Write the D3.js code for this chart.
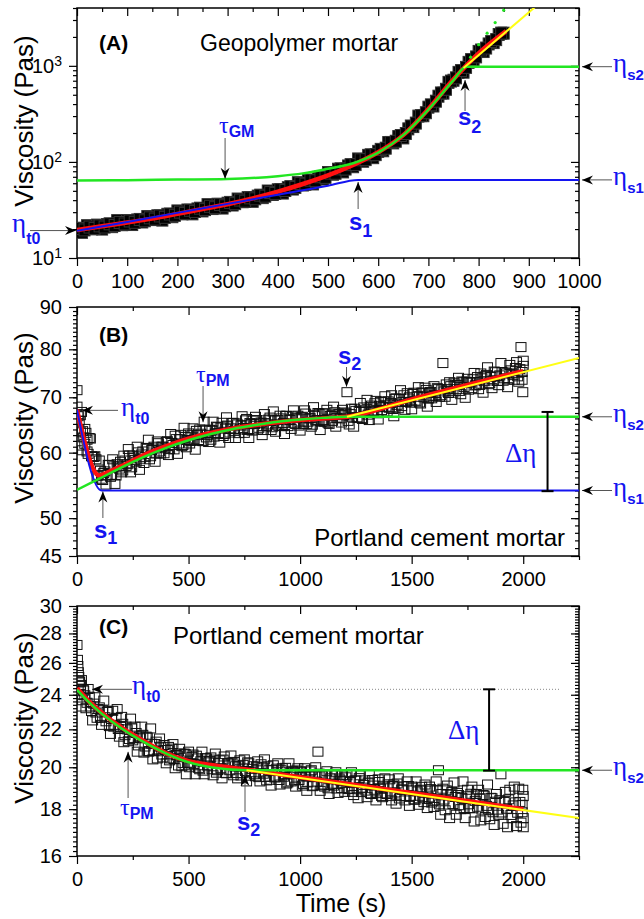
<!DOCTYPE html>
<html>
<head>
<meta charset="utf-8">
<script src="https://cdn.jsdelivr.net/npm/d3@7"></script>
<style>
    body { margin: 0; background: #fff; }
    svg { display: block; font-family: 'Liberation Sans', Arial, sans-serif; }
    .axis path { display: none; }
    .axis line { stroke: #000; stroke-width: 1.2; }
    .axis text { font-size: 20px; fill: #000; font-family: 'Liberation Sans', Arial, sans-serif; }
</style>
</head>
<body>
<svg id="chart"></svg>
<script>
// ---- data ----
// (A) geopolymer mortar, samples every 10 s plus the in-between 5 s samples
let timeA = d3.range(0, 851, 10);
let viscA = [20.4, 18.5, 21.7, 20.1, 22.0, 20.0, 22.3, 21.2, 24.5, 22.2,
    24.5, 22.3, 24.9, 23.7, 27.0, 25.1, 27.5, 24.8, 28.5, 26.9,
    30.9, 28.8, 31.6, 28.8, 32.4, 30.9, 35.9, 32.7, 36.3, 33.1,
    37.2, 35.6, 41.1, 38.5, 42.5, 38.9, 44.1, 42.5, 49.8, 45.8,
    51.3, 47.4, 53.9, 52.2, 60.8, 57.5, 64.3, 59.0, 69.0, 66.4,
    77.6, 74.5, 84.0, 78.7, 90.8, 89.1, 107.4, 101.6, 117, 110.7,
    128.8, 130.6, 159.2, 157.7, 183.7, 177.8, 220.8, 233.3, 299.9, 302.6,
    371.5, 382.0, 483.1, 520.0, 673.0, 707.9, 855.1, 859.0, 1087, 1143,
    1413, 1409, 1690, 1746, 2118, 2188];
let timeA2 = d3.range(5, 846, 10);
let viscA2 = [20.3, 19.6, 21.0, 20.3, 21.6, 21.0, 22.7, 21.8, 23.4, 22.6,
    24.3, 23.5, 25.2, 24.4, 26.2, 25.4, 27.4, 26.5, 28.7, 27.8,
    30.0, 29.1, 31.4, 30.5, 33.0, 31.9, 34.5, 33.4, 36.1, 35.0,
    37.9, 36.8, 40.1, 39.0, 42.3, 41.3, 45.1, 44.0, 48.0, 47.0,
    51.4, 50.4, 55.3, 54.3, 59.5, 58.6, 64.6, 63.7, 70.1, 69.1,
    76.5, 76.2, 84.7, 84.3, 93.7, 93.8, 105.2, 105.7, 118.6, 119.1,
    135.1, 139.0, 159.5, 164.1, 188.3, 197.6, 236.5, 253.5, 303.2, 325.1,
    392.5, 428.6, 522.2, 570.2, 694.7, 749.9, 893.0, 963.9, 1161, 1239,
    1462, 1532, 1790, 1875, 2192];

let redA_t = [0, 50, 100, 150, 200, 250, 300, 350, 400, 450, 500, 550, 600, 650, 700, 750, 800, 855];
let redA_v = [19.5, 21.4, 23.4, 25.7, 28.8, 32.4, 36.3, 41.7, 49, 58.9, 72.4, 93, 126, 190, 355, 724, 1350, 2300];
let blueA_t = [0, 100, 200, 300, 400, 500, 560, 1000];
let blueA_v = [19.2, 23.7, 29.5, 36.6, 45.6, 56.6, 65, 65];
let greenA_t = [0, 100, 200, 300, 400, 450, 500, 550, 600, 650, 700, 750, 775, 1000];
let greenA_v = [64, 64.5, 65.5, 66.5, 71, 76, 85, 97, 125, 190, 350, 710, 980, 980];
let yellowA_t = [770, 930];
let yellowA_v = [950, 4900];
let dotsA_t = [784, 800, 817, 833, 850];
let dotsA_v = [1230, 1660, 2190, 2820, 3800];

// (B) Portland cement mortar, samples every 10 s plus the in-between 5 s samples
let timeB = d3.range(0, 2001, 10);
let viscB = [71.4, 65.6, 67.2, 62.6, 63.4, 59.8, 62.4, 59.3, 59.4, 56.2,
    58.7, 55.8, 56.7, 54.9, 58.0, 56.1, 58.9, 55.0, 58.1, 57.4,
    56.8, 59.5, 57.8, 60.6, 56.8, 59.5, 58.8, 61.0, 57.2, 59.7,
    58.3, 60.8, 62.2, 59.4, 60.7, 58.5, 61.9, 60.2, 61.0, 59.9,
    61.8, 59.6, 63.2, 61.3, 62.9, 59.8, 62.3, 61.1, 64.3, 60.9,
    63.3, 62.0, 64.2, 60.5, 63.0, 64.0, 62.0, 65.4, 62.6, 61.8,
    62.2, 65.4, 63.3, 64.4, 61.7, 65.2, 63.2, 66.2, 62.5, 64.2,
    65.2, 62.5, 64.9, 64.0, 66.4, 63.4, 65.9, 62.5, 65.0, 65.6,
    66.3, 64.0, 65.1, 63.0, 66.8, 64.6, 65.8, 63.9, 67.3, 63.6,
    65.7, 66.5, 64.6, 63.2, 66.5, 65.8, 64.1, 67.5, 65.0, 66.5,
    63.8, 66.3, 67.5, 65.0, 66.0, 64.5, 68.1, 65.6, 67.0, 63.9,
    66.9, 65.4, 67.6, 65.0, 66.5, 68.2, 64.5, 66.9, 66.0, 67.6,
    67.1, 71.0, 64.9, 67.8, 64.5, 67.4, 66.1, 68.9, 65.9, 67.5,
    69.5, 65.7, 68.4, 67.3, 69.3, 65.8, 69.1, 68.1, 70.2, 67.3,
    68.0, 70.4, 66.4, 69.8, 67.9, 71.4, 69.1, 67.6, 70.8, 70.0,
    67.7, 70.9, 69.2, 72.0, 68.8, 70.9, 71.9, 68.2, 70.9, 69.8,
    72.2, 69.1, 71.6, 70.4, 77.0, 70.1, 71.6, 73.0, 69.5, 72.9,
    71.6, 73.9, 70.6, 73.0, 69.9, 73.7, 73.0, 71.8, 74.9, 72.5,
    71.6, 74.8, 70.9, 74.2, 76.1, 72.8, 71.8, 75.2, 74.2, 72.4,
    77.0, 73.3, 75.0, 72.0, 76.6, 74.8, 73.5, 77.2, 73.1, 80.5,
    76.4];
let timeB2 = d3.range(5, 1996, 10);
let viscB2 = [66.4, 66.6, 63.7, 64.1, 62.2, 62.5, 59.4, 59.3, 58.9, 56.4,
    57.05, 55.6, 56.95, 56.4, 57.95, 56.4, 57.75, 56.3, 57.75, 58.5,
    57.1, 58.7, 58.1, 59.55, 57.6, 59.2, 58.5, 60.05, 59.0, 60.2,
    59.3, 60.75, 58.9, 60.45, 61.0, 59.85, 61.6, 59.85, 61.0, 60.75,
    61.95, 60.6, 61.65, 60.55, 62.3, 61.55, 63.05, 61.3, 62.65, 62.15,
    61.55, 63.05, 62.25, 63.75, 62.15, 63.25, 61.95, 63.95, 63.05, 63.95,
    63.85, 62.75, 64.5, 63.35, 64.35, 62.85, 64.15, 64.7, 63.45, 65.15,
    63.75, 65.1, 63.35, 64.7, 64.25, 65.65, 63.9, 65.15, 63.8, 64.95,
    65.7, 64.3, 65.25, 63.9, 65.65, 64.9, 66.15, 64.4, 65.65, 64.9,
    64.65, 66.0, 65.15, 66.45, 64.6, 65.7, 66.35, 65.1, 66.05, 64.7,
    66.2, 64.95, 66.9, 65.4, 66.05, 64.85, 66.6, 65.7, 66.85, 65.4,
    65.7, 66.95, 65.2, 66.5, 65.55, 67.15, 66.1, 66.8, 65.25, 66.6,
    66.95, 65.55, 66.8, 66.2, 67.8, 66.2, 67.45, 66.05, 68.05, 67.2,
    66.7, 68.1, 67.4, 68.85, 66.95, 68.35, 67.55, 69.2, 68.2, 69.2,
    68.9, 67.75, 69.65, 68.55, 69.7, 68.3, 70.4, 69.1, 69.75, 68.95,
    70.65, 69.35, 70.1, 69.0, 70.9, 70.0, 71.45, 69.75, 71.05, 70.2,
    70.3, 71.8, 70.1, 71.55, 71.15, 72.55, 70.85, 72.2, 70.9, 72.5,
    72.45, 71.25, 73.15, 72.05, 73.1, 71.5, 72.9, 73.6, 72.35, 74.05,
    72.45, 73.8, 73.2, 74.5, 72.6, 74.05, 73.35, 75.05, 73.25, 74.4,
    75.1, 73.8, 74.8, 73.55, 75.45, 74.45, 75.95, 74.2, 75.7, 75.1];
let extraB_t = [0, 5, 5, 15, 15, 25, 35, 45, 1995, 1998, 2000];
let extraB_v = [68.2, 66.8, 64.0, 63.5, 61.2, 60.4, 61.5, 60.2, 73.5, 71.0, 77.5];

let redB_t = [0, 100, 150, 200, 300, 400, 500, 600, 700, 800, 900, 1000, 1100, 1210, 1500, 2000];
let redB_v = [67.6, 56.3, 57.0, 57.8, 59.6, 61.1, 62.4, 63.4, 64.2, 64.8, 65.3, 65.7, 66.0, 66.3, 69.6, 75.3];
let blueB_t = [0, 110, 2250];
let blueB_v = [67.6, 54.0, 54.0];
let greenB_t = [0, 100, 200, 300, 400, 500, 600, 700, 800, 900, 1000, 1100, 1210, 2250];
let greenB_v = [54.1, 55.8, 57.6, 59.3, 60.8, 62.1, 63.2, 64.1, 64.8, 65.4, 65.8, 66.1, 66.3, 66.3];
let yellowB_t = [1210, 2250];
let yellowB_v = [66.3, 78.1];

// (C) Portland cement mortar, samples every 10 s plus the in-between 5 s samples
let timeC = d3.range(0, 2001, 10);
let viscC = [24.0, 24.75, 23.3, 24.25, 23.2, 24.35, 23.3, 22.5, 23.85, 22.65,
    23.25, 22.25, 23.65, 22.45, 23.05, 21.75, 23.05, 22.25, 23.15, 21.6,
    22.7, 21.3, 22.15, 21.35, 22.6, 21.4, 22.15, 20.8, 21.6, 22.15,
    20.75, 21.6, 20.8, 22.05, 20.4, 21.2, 20.45, 21.5, 20.65, 21.15,
    20.2, 21.05, 20.45, 21.2, 19.95, 20.6, 20.95, 20.05, 20.7, 19.65,
    20.8, 20.2, 20.65, 19.65, 20.45, 19.9, 20.8, 19.65, 20.45, 20.25,
    20.5, 19.6, 20.7, 19.85, 20.35, 19.45, 20.55, 19.7, 20.2, 20.6,
    19.6, 20.05, 19.45, 20.35, 19.7, 20.4, 19.3, 20.2, 19.75, 20.05,
    19.55, 20.3, 19.3, 20.0, 20.4, 19.35, 19.85, 19.1, 20.1, 19.5,
    20.2, 19.15, 19.95, 19.65, 19.2, 20.2, 19.3, 19.75, 19.05, 19.95,
    19.8, 19.1, 19.95, 18.85, 19.55, 19.85, 19.1, 20.0, 20.8, 18.85,
    19.55, 19.05, 19.8, 18.7, 19.6, 19.1, 19.75, 18.75, 19.35, 19.6,
    18.8, 19.6, 18.95, 19.75, 18.65, 19.35, 18.5, 19.6, 19.0, 19.35,
    18.55, 19.65, 18.7, 19.1, 18.4, 19.4, 18.95, 18.55, 19.45, 18.7,
    19.4, 18.4, 19.15, 18.25, 19.45, 18.6, 18.9, 18.4, 19.3, 18.15,
    19.05, 18.45, 19.3, 18.2, 18.9, 18.55, 19.15, 18.05, 19.05, 18.3,
    18.1, 19.3, 19.85, 17.75, 18.95, 17.95, 19.1, 17.6, 18.8, 19.25,
    17.75, 18.65, 18.0, 19.3, 17.6, 18.9, 18.05, 19.05, 17.45, 18.7,
    18.9, 17.5, 18.65, 17.65, 19.15, 17.55, 18.5, 17.3, 18.7, 17.75,
    19.65, 17.35, 18.8, 17.2, 18.9, 17.6, 19.05, 17.25, 18.95, 17.4,
    17.6];
let timeC2 = d3.range(5, 1996, 10);
let viscC2 = [24.02, 24.37, 23.67, 23.97, 23.52, 23.88, 23.04, 23.47, 22.95, 23.15,
    22.65, 23.08, 22.68, 22.98, 22.18, 22.58, 22.15, 22.65, 22.02, 22.14,
    22.31, 21.68, 22.0, 21.47, 22.05, 21.53, 21.8, 21.13, 21.51, 21.7,
    21.07, 21.55, 20.83, 21.22, 20.85, 21.33, 20.82, 21.06, 20.5, 20.89,
    20.89, 20.35, 20.96, 20.42, 20.63, 20.09, 20.7, 20.21, 20.67, 20.23,
    20.0, 20.53, 20.16, 20.59, 19.97, 20.3, 19.83, 20.46, 20.09, 20.32,
    19.9, 20.39, 19.73, 20.21, 19.95, 20.39, 19.72, 20.21, 19.85, 20.24,
    20.27, 19.71, 20.05, 19.59, 20.12, 19.81, 20.25, 19.58, 19.92, 19.65,
    20.03, 19.51, 20.15, 19.68, 19.52, 20.05, 19.38, 19.87, 19.5, 19.93,
    19.37, 19.85, 19.53, 19.97, 19.25, 19.69, 19.82, 19.35, 19.84, 19.37,
    19.75, 19.18, 19.57, 19.25, 19.79, 19.07, 19.61, 19.29, 19.68, 19.11,
    19.15, 19.63, 18.97, 19.45, 19.19, 19.62, 18.96, 19.44, 18.98, 19.31,
    19.5, 18.93, 19.27, 18.8, 19.34, 18.97, 19.46, 18.79, 19.13, 18.86,
    19.25, 18.73, 19.37, 18.9, 18.74, 19.27, 18.61, 19.09, 18.73, 19.16,
    18.6, 19.08, 18.77, 19.2, 18.49, 18.92, 19.06, 18.59, 19.08, 18.61,
    19.0, 18.43, 18.82, 18.5, 19.04, 18.32, 18.86, 18.54, 18.93, 18.36,
    18.4, 18.88, 18.22, 18.7, 18.44, 18.87, 18.21, 18.69, 18.23, 18.56,
    18.75, 18.18, 18.52, 18.05, 18.59, 18.22, 18.71, 18.04, 18.38, 18.11,
    18.5, 17.98, 18.62, 18.15, 17.99, 18.52, 17.86, 18.34, 17.98, 18.41,
    17.85, 18.33, 18.02, 18.45, 17.74, 18.17, 18.31, 17.84, 18.33, 17.86];
let extraC_t = [0, 2, 4, 6, 8, 12, 16, 20, 28, 1995, 1998, 2000, 2000];
let extraC_v = [27.2, 26.2, 25.8, 25.4, 25.1, 24.8, 24.6, 24.9, 24.3, 18.2, 18.9, 18.6, 17.2];

let redC_t = [0, 50, 100, 150, 200, 300, 400, 500, 600, 750, 1000, 1500, 2000];
let redC_v = [24.4, 23.65, 23.05, 22.53, 22.1, 21.36, 20.71, 20.31, 20.11, 19.9, 19.5, 18.75, 18.0];
let greenC_t = [0, 50, 100, 150, 200, 300, 400, 500, 600, 760, 2250];
let greenC_v = [24.3, 23.6, 23.0, 22.5, 22.05, 21.3, 20.7, 20.25, 20.0, 19.85, 19.85];
let yellowC_t = [760, 2250];
let yellowC_v = [19.85, 17.6];

// tick values
let ticksA_x = d3.range(0, 1001, 100);
let minorA_x = d3.range(50, 1000, 100);
let ticksA_y = [10, 100, 1000];
let minorA_y = [20, 30, 40, 50, 60, 70, 80, 90, 200, 300, 400, 500, 600, 700, 800, 900, 2000, 3000, 4000];
let ticksBC_x = [0, 500, 1000, 1500, 2000];
let minorBC_x = [250, 750, 1250, 1750, 2250];
let ticksB_y = [45, 50, 60, 70, 80, 90];
let minorB_y = d3.range(46, 90, 1);
let ticksC_y = [16, 18, 20, 22, 24, 26, 28, 30];
let minorC_y = d3.range(16.2, 30, 0.2);

// ---- layout ----
let width = 644;
let height = 919;
let left = 77;
let right = 579;

let blue = '#1414f0';
let cRed = '#ff1010';
let cGreen = '#22e622';
let cYellow = '#ffff14';

let svg = d3.select('#chart').attr('width', width).attr('height', height);

let defs = svg.append('defs');
defs.append('marker')
    .attr('id', 'head')
    .attr('viewBox', '-12 -6 14 12')
    .attr('refX', 0)
    .attr('refY', 0)
    .attr('markerWidth', 14)
    .attr('markerHeight', 12)
    .attr('markerUnits', 'userSpaceOnUse')
    .attr('orient', 'auto')
    .append('path')
    .attr('d', 'M0,0 L-11,-4.5 L-7.5,0 L-11,4.5 Z')
    .attr('fill', '#000');

let xA = d3.scaleLinear().domain([0, 1000]).range([left, right]);
let yA = d3.scaleLog().domain([10, 4000]).range([258, 8]);
let xB = d3.scaleLinear().domain([0, 2250]).range([left, right]);
let yB = d3.scaleLog().domain([45, 90]).range([556, 307]);
let xC = d3.scaleLinear().domain([0, 2250]).range([left, right]);
let yC = d3.scaleLog().domain([16, 30]).range([856, 606]);

let drawAxes = (key, x, y, top, bottom, xt, xm, yt, ym, yfmt) => {
    let g = svg.append('g').attr('class', 'axes-' + key);
    let ax = (axis, tx, ty) =>
        g.append('g').attr('class', 'axis').attr('transform', `translate(${tx},${ty})`).call(axis);

    ax(d3.axisBottom(x).tickValues(xt).tickSize(8).tickPadding(8).tickFormat(d3.format('d')), 0, bottom);
    ax(d3.axisBottom(x).tickValues(xm).tickSize(4).tickFormat(''), 0, bottom);
    ax(d3.axisBottom(x).tickValues(xt).tickSize(8).tickFormat(''), 0, top);
    ax(d3.axisBottom(x).tickValues(xm).tickSize(4).tickFormat(''), 0, top);

    let yl = ax(d3.axisLeft(y).tickValues(yt).tickSize(8).tickPadding(7).tickFormat(yfmt), left, 0);
    ax(d3.axisLeft(y).tickValues(ym).tickSize(4).tickFormat(''), left, 0);
    ax(d3.axisLeft(y).tickValues(yt).tickSize(8).tickFormat(''), right, 0);
    ax(d3.axisLeft(y).tickValues(ym).tickSize(4).tickFormat(''), right, 0);

    g.append('rect')
        .attr('x', left).attr('y', top)
        .attr('width', right - left).attr('height', bottom - top)
        .attr('fill', 'none').attr('stroke', '#000').attr('stroke-width', 1.5);

    svg.append('clipPath').attr('id', 'clip' + key)
        .append('rect')
        .attr('x', left).attr('y', top)
        .attr('width', right - left).attr('height', bottom - top);
    return yl;
};

let drawSquares = (key, x, y, ts, vs, fill, stroke, w, h) => {
    svg.append('g').attr('clip-path', `url(#clip${key})`)
        .selectAll('rect')
        .data(ts.map((t, i) => [t, vs[i]]))
        .enter()
        .append('rect')
        .attr('x', (d) => x(d[0]) - w / 2)
        .attr('y', (d) => y(d[1]) - h / 2)
        .attr('width', w)
        .attr('height', h)
        .attr('fill', fill)
        .attr('stroke', stroke)
        .attr('stroke-width', 1);
};

let drawLine = (key, x, y, ts, vs, color, w) => {
    let line = d3.line().x((d) => x(d[0])).y((d) => y(d[1])).curve(d3.curveMonotoneX);
    svg.append('path')
        .attr('clip-path', `url(#clip${key})`)
        .attr('d', line(ts.map((t, i) => [t, vs[i]])))
        .attr('fill', 'none')
        .attr('stroke', color)
        .attr('stroke-width', w)
        .attr('stroke-linejoin', 'round');
};

let arrow = (x1, y1, x2, y2) => {
    svg.append('line')
        .attr('x1', x1).attr('y1', y1).attr('x2', x2).attr('y2', y2)
        .attr('stroke', '#555').attr('stroke-width', 1)
        .attr('marker-end', 'url(#head)');
};

// greek / symbol label with a bold subscript
let label = (x, y, main, sub, serif, size, subSize, dy) => {
    let t = svg.append('text').attr('x', x).attr('y', y).attr('fill', blue);
    t.append('tspan')
        .attr('font-family', serif ? "'Liberation Serif', 'Times New Roman', serif" : "'Liberation Sans', Arial, sans-serif")
        .attr('font-weight', serif ? 'normal' : 'bold')
        .attr('font-size', size)
        .text(main);
    t.append('tspan')
        .attr('font-family', "'Liberation Sans', Arial, sans-serif")
        .attr('font-weight', 'bold')
        .attr('font-size', subSize)
        .attr('dy', dy)
        .text(sub);
};

let errorBar = (x, y1, y2) => {
    let g = svg.append('g').attr('stroke', '#000').attr('stroke-width', 2);
    g.append('line').attr('x1', x).attr('x2', x).attr('y1', y1).attr('y2', y2);
    g.append('line').attr('x1', x - 6).attr('x2', x + 6).attr('y1', y1).attr('y2', y1);
    g.append('line').attr('x1', x - 6).attr('x2', x + 6).attr('y1', y2).attr('y2', y2);
};

let plainText = (x, y, s, size, weight, anchor) => {
    svg.append('text')
        .attr('x', x).attr('y', y)
        .attr('font-size', size)
        .attr('font-weight', weight || 'normal')
        .attr('text-anchor', anchor || 'start')
        .attr('fill', '#000')
        .text(s);
};

let yTitle = (cy) => {
    svg.append('text')
        .attr('transform', `translate(33, ${cy}) rotate(-90)`)
        .attr('text-anchor', 'middle')
        .attr('font-size', 26)
        .text('Viscosity (Pas)');
};

// ---- panel A ----
let ylA = drawAxes('A', xA, yA, 8, 258, ticksA_x, minorA_x, ticksA_y, minorA_y, () => '');
ylA.selectAll('.tick text').each(function (d) {
    let t = d3.select(this);
    t.append('tspan').text('10');
    t.append('tspan').attr('dy', '-0.5em').attr('font-size', 14).text(Math.round(Math.log10(d)));
});
drawSquares('A', xA, yA, timeA, viscA, '#000', '#333', 11, 12);
drawSquares('A', xA, yA, timeA2, viscA2, '#000', '#333', 11, 12);
drawLine('A', xA, yA, redA_t, redA_v, cRed, 4.5);
drawLine('A', xA, yA, blueA_t, blueA_v, blue, 2);
drawLine('A', xA, yA, greenA_t, greenA_v, cGreen, 2.5);
drawLine('A', xA, yA, yellowA_t, yellowA_v, cYellow, 2);
svg.append('g').attr('clip-path', 'url(#clipA)')
    .selectAll('circle')
    .data(dotsA_t.map((t, i) => [t, dotsA_v[i]]))
    .enter()
    .append('circle')
    .attr('cx', (d) => xA(d[0]))
    .attr('cy', (d) => yA(d[1]))
    .attr('r', 1.6)
    .attr('fill', cGreen);

plainText(99, 50, '(A)', 21, 'bold');
plainText(200, 51, 'Geopolymer mortar', 23);
yTitle(121);

arrow(30, yA(19.3), xA(0) - 1, yA(19.3));
label(12, yA(19.3) + 1, 'η', 't0', true, 27, 16, 12);
arrow(xA(295), 138, xA(295), yA(67));
label(219, 133, 'τ', 'GM', true, 24, 16, 4);
arrow(xA(560), 209, xA(560), yA(65) + 2);
label(349, 230, 's', '1', false, 24, 18, 7);
arrow(xA(773), 111, xA(773), 80);
label(458, 125, 's', '2', false, 24, 18, 8);
arrow(612, yA(980), right + 3, yA(980));
label(613, yA(980) + 5, 'η', 's2', true, 27, 15, 8);
arrow(612, yA(65), right + 3, yA(65));
label(613, yA(65) + 5, 'η', 's1', true, 27, 15, 8);

// ---- panel B ----
drawAxes('B', xB, yB, 307, 556, ticksBC_x, minorBC_x, ticksB_y, minorB_y, d3.format('d'));
drawSquares('B', xB, yB, timeB, viscB, 'none', '#111', 10, 9);
drawSquares('B', xB, yB, timeB2, viscB2, 'none', '#111', 10, 9);
drawSquares('B', xB, yB, extraB_t, extraB_v, 'none', '#111', 10, 9);
drawLine('B', xB, yB, redB_t, redB_v, cRed, 4.5);
drawLine('B', xB, yB, blueB_t, blueB_v, blue, 2);
drawLine('B', xB, yB, greenB_t, greenB_v, cGreen, 2.5);
drawLine('B', xB, yB, yellowB_t, yellowB_v, cYellow, 2);

plainText(99, 342, '(B)', 21, 'bold');
plainText(565, 546, 'Portland cement mortar', 24, 'normal', 'end');
yTitle(418);

arrow(118, yB(67.5), xB(0) + 5, yB(67.5));
label(121, yB(67.5) + 6, 'η', 't0', true, 27, 16, 8);
arrow(xB(565), 386, xB(565), yB(65.3));
label(196, 382, 'τ', 'PM', true, 24, 16, 4);
arrow(xB(1208), 367, xB(1208), yB(72.1));
label(338, 364, 's', '2', false, 24, 18, 6);
arrow(xB(116), 518, xB(116), yB(54) + 1);
label(94, 538, 's', '1', false, 24, 18, 6);
arrow(612, yB(66.3), right + 3, yB(66.3));
label(613, yB(66.3) + 5, 'η', 's2', true, 27, 15, 8);
arrow(612, yB(54), right + 3, yB(54));
label(613, yB(54) + 5, 'η', 's1', true, 27, 15, 8);
errorBar(xB(2109), yB(67.2), yB(53.9));
svg.append('text').attr('x', 505).attr('y', 462).attr('fill', blue)
    .attr('font-family', "'Liberation Serif', 'Times New Roman', serif")
    .attr('font-size', 27).text('Δη');

// ---- panel C ----
drawAxes('C', xC, yC, 606, 856, ticksBC_x, minorBC_x, ticksC_y, minorC_y, d3.format('d'));
svg.append('line')
    .attr('x1', 162).attr('x2', 560)
    .attr('y1', yC(24.33)).attr('y2', yC(24.33))
    .attr('stroke', '#888').attr('stroke-width', 1).attr('stroke-dasharray', '1,2');
drawSquares('C', xC, yC, timeC, viscC, 'none', '#111', 10, 9);
drawSquares('C', xC, yC, timeC2, viscC2, 'none', '#111', 10, 9);
drawSquares('C', xC, yC, extraC_t, extraC_v, 'none', '#111', 10, 9);
drawLine('C', xC, yC, redC_t, redC_v, cRed, 4.5);
drawLine('C', xC, yC, greenC_t, greenC_v, cGreen, 2.5);
drawLine('C', xC, yC, yellowC_t, yellowC_v, cYellow, 2);

plainText(99, 634, '(C)', 21, 'bold');
plainText(173, 644, 'Portland cement mortar', 24);
yTitle(718);

arrow(132, yC(24.33), xC(0) + 15, yC(24.33));
label(132, yC(24.33) + 5, 'η', 't0', true, 27, 16, 8);
arrow(xC(229), 798, xC(229), yC(20.79));
label(120, 815, 'τ', 'PM', true, 24, 16, 4);
arrow(xC(753), 812, xC(753), yC(19.62));
label(237, 830, 's', '2', false, 24, 18, 6);
arrow(612, yC(19.85), right + 3, yC(19.85));
label(613, yC(19.85) + 5, 'η', 's2', true, 27, 15, 8);
errorBar(xC(1847), yC(24.33), yC(19.83));
svg.append('text').attr('x', 448).attr('y', 739).attr('fill', blue)
    .attr('font-family', "'Liberation Serif', 'Times New Roman', serif")
    .attr('font-size', 27).text('Δη');

svg.append('text')
    .attr('x', 341).attr('y', 912)
    .attr('text-anchor', 'middle')
    .attr('font-size', 25)
    .text('Time (s)');
</script>
</body>
</html>
